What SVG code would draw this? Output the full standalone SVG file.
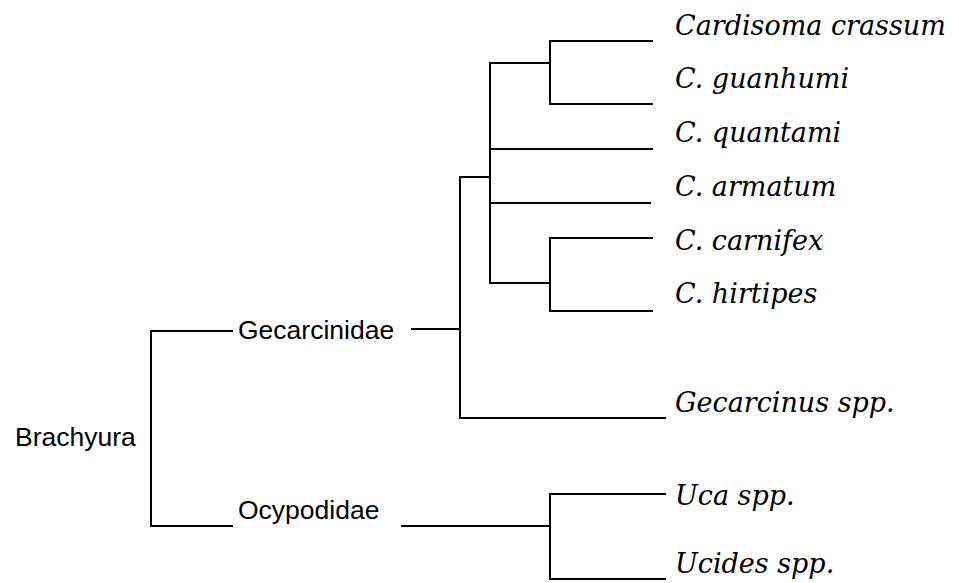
<svg xmlns="http://www.w3.org/2000/svg" width="959" height="583" viewBox="0 0 959 583">
<style>
.ln{stroke:#000;stroke-width:2;fill:none;stroke-linecap:square}
.sp{font-family:"DejaVu Serif",serif;font-style:italic;font-size:27px;fill:#000}
.tx{font-family:"Liberation Sans",Arial,sans-serif;font-size:26.5px;fill:#000}
</style>
<rect width="959" height="583" fill="#fff"/>
<g id="connectors" class="ln">
<path d="M232,331H151V526H232"/>
<path d="M412,329H460M460,177V418H665"/>
<path d="M460,177H490M490,63V283M490,63H550M550,41V104M550,41H652M550,104H652"/>
<path d="M490,149H652M490,203H650M490,283H550M550,238V311M550,238H652M550,311H652"/>
<path d="M402,526H550M550,494V579M550,494H665M550,579H665"/>
</g>
<g id="brachyura"><text class="tx" x="15" y="446">Brachyura</text></g>
<g id="gecarcinidae"><text class="tx" x="238" y="339">Gecarcinidae</text></g>
<g id="ocypodidae"><text class="tx" x="238" y="519">Ocypodidae</text></g>
<g id="cardisoma"><text class="sp" x="675" y="35">Cardisoma crassum</text></g>
<g id="guanhumi"><text class="sp" x="675" y="88">C. guanhumi</text></g>
<g id="quantami"><text class="sp" x="675" y="142">C. quantami</text></g>
<g id="armatum"><text class="sp" x="675" y="196">C. armatum</text></g>
<g id="carnifex"><text class="sp" x="675" y="250">C. carnifex</text></g>
<g id="hirtipes"><text class="sp" x="675" y="303">C. hirtipes</text></g>
<g id="gecarcinus"><text class="sp" x="675" y="412">Gecarcinus spp.</text></g>
<g id="uca"><text class="sp" x="675" y="505">Uca spp.</text></g>
<g id="ucides"><text class="sp" x="675" y="573">Ucides spp.</text></g>
</svg>
